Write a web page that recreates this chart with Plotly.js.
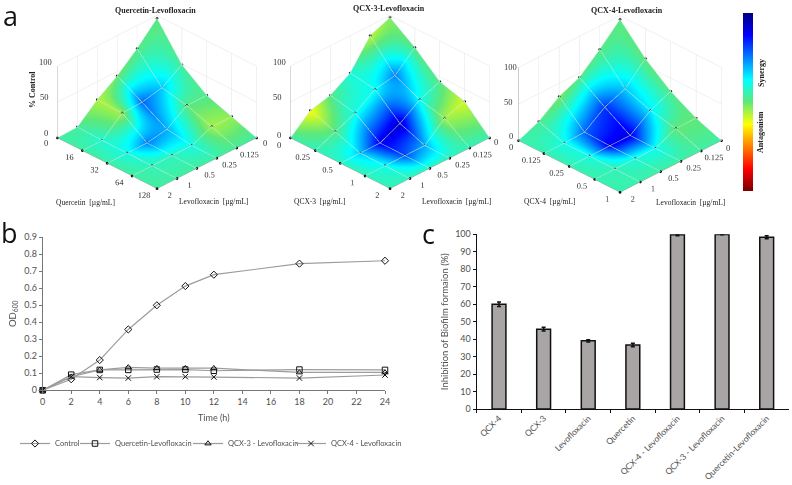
<!DOCTYPE html>
<html>
<head>
<meta charset="utf-8">
<script src="https://cdn.plot.ly/plotly-3.0.1.min.js"></script>
<style>html,body{margin:0;padding:0;background:#fff}#chart{width:792px;height:485px}</style>
</head>
<body>
<div id="chart"></div>
<script>
const W = 792, H = 485;

// panel a, rows = levofloxacin steps, columns = partner drug steps
const levoTicks = ["0", "0.125", "0.25", "0.5", "1", "2"];
const quercetinTicks = ["0", "16", "32", "64", "128"];
const qcx3Ticks = ["0", "0.25", "0.5", "1", "2"];
const qcx4Ticks = ["0", "0.125", "0.25", "0.5", "1"];
const zTicks = [0, 50, 100];

const quercetinGrowth = [
  [96, 49, 24, 12, 0],
  [68, 31, 24, 12, 0],
  [44, 25, 5, 0, 0],
  [25, 24, 0, 0, 0],
  [1, 0, 0, 0, 0],
  [0, 0, 0, 0, 0]
];
const quercetinSynergy = [
  [2, 6, 4, -8, 8],
  [2, 35, 2, -10, 6],
  [-2, 55, 40, 20, 8],
  [-12, -10, 50, 13, 8],
  [6, 16, 20, 12, 8],
  [8, 8, 8, 8, 8]
];
const qcx3Growth = [
  [97, 73, 43, 33, 0],
  [86, 48, 32, 24, 0],
  [48, 43, 13, 0, 0],
  [31, 24, 0, 0, 0],
  [24, 12, 0, 0, 0],
  [0, 0, 0, 0, 0]
];
const qcx3Synergy = [
  [-5, 2, 3, -18, 10],
  [-15, 50, 22, -10, 12],
  [18, 22, 85, 40, 12],
  [3, 20, 78, 60, 12],
  [-25, 3, 35, 22, 12],
  [8, 12, 12, 12, 12]
];
const qcx4Growth = [
  [95, 59, 32, 13, 0],
  [68, 32, 20, 13, 0],
  [44, 21, 0, 0, 0],
  [32, 1, 0, 0, 0],
  [12, 0, 0, 0, 0],
  [0, 0, 0, 0, 0]
];
const qcx4Synergy = [
  [2, 0, 3, 0, 8],
  [2, 35, 28, 0, 8],
  [3, 65, 80, 22, 8],
  [-5, 55, 78, 18, 8],
  [5, 20, 20, 12, 10],
  [10, 10, 10, 10, 10]
];

// panel b
const hours = [0, 2, 4, 6, 8, 10, 12, 18, 24];
const odControl = [0, 0.065, 0.178, 0.358, 0.5, 0.613, 0.68, 0.745, 0.762];
const odQuercetinLevo = [0, 0.092, 0.12, 0.12, 0.122, 0.122, 0.115, 0.122, 0.12];
const odQcx3Levo = [0, 0.08, 0.12, 0.135, 0.13, 0.13, 0.13, 0.105, 0.105];
const odQcx4Levo = [0, 0.08, 0.075, 0.072, 0.08, 0.08, 0.078, 0.072, 0.09];

// panel c
const biofilmLabels = ["QCX-4", "QCX-3", "Levofloxacin", "Quercetin", "QCX-4 - Levofloxacin", "QCX-3 - Levofloxacin", "Quercetin-Levofloxacin"];
const biofilmValues = [60, 45.7, 39, 36.7, 99.7, 99.9, 98.3];
const biofilmErrors = [1.3, 1.1, 0.6, 1, 0.5, 0.2, 0.8];

const jetScale = [
  [0, "#780000"], [0.125, "#ff0000"], [0.375, "#ffff00"], [0.5, "#5fe87a"],
  [0.625, "#00ffff"], [0.875, "#0000ff"], [1, "#000080"]
];

const px = (x) => x / W;
const py = (y) => 1 - y / H;
const serif = "Liberation Serif";
const sans = "Lato";

function surfaceTraces(growth, synergy, scene, withBar) {
  const xs = growth.map((_, i) => i);
  const ys = growth[0].map((_, j) => j);
  const dots = { x: [], y: [], z: [] };
  growth.forEach((row, i) => row.forEach((v, j) => {
    dots.x.push(i); dots.y.push(j); dots.z.push(v);
  }));
  const wire = { show: true, start: 0, size: 1, color: "#bdeee4", width: 1, highlight: false };
  const surface = {
    type: "surface", scene: scene,
    x: xs, y: ys, z: ys.map((j) => growth.map((row) => row[j])),
    surfacecolor: ys.map((j) => synergy.map((row) => row[j])),
    colorscale: jetScale, cmin: -100, cmax: 100,
    lighting: { ambient: 1, diffuse: 0, specular: 0, roughness: 1, fresnel: 0 },
    showscale: withBar, hoverinfo: "skip",
    contours: {
      x: Object.assign({}, wire, { end: 5 }),
      y: Object.assign({}, wire, { end: 4 }),
      z: { highlight: false }
    }
  };
  if (withBar) {
    surface.colorbar = {
      x: px(743), xanchor: "left", xpad: 0, ypad: 0, y: py(13), yanchor: "top",
      lenmode: "pixels", len: 178, thickness: 10, outlinewidth: 0,
      ticks: "", showticklabels: false
    };
  }
  const points = {
    type: "scatter3d", mode: "markers", scene: scene,
    x: dots.x, y: dots.y, z: dots.z,
    marker: { size: 1.6, color: "#111" }, hoverinfo: "skip", showlegend: false
  };
  return [surface, points];
}

// the two "0" labels and the z labels sit apart from where gl3d would put them, see zeroNotes
const skipZero = (ticks) => ticks.map((t, i) => (i ? t : " "));

function sceneLayout(centre, top, partnerTicks) {
  const axis = {
    showbackground: false, gridcolor: "#e4e4e4", gridwidth: 1, showline: true,
    linecolor: "#999", zeroline: false, showspikes: false, ticks: "", title: { text: "" }, tickangle: 0,
    tickfont: { family: serif, size: 10, color: "#333" }, autorange: false
  };
  return {
    domain: { x: [px(centre - 140), px(centre + 140)], y: [py(top + 210), py(top)] },
    aspectmode: "manual", aspectratio: { x: 1.38, y: 1.38, z: 0.818 },
    camera: { eye: { x: 1.5, y: 1.5, z: 1.257 }, projection: { type: "orthographic" } },
    xaxis: Object.assign({}, axis, { range: [0, 5], tickmode: "array", tickvals: levoTicks.map((_, i) => i), ticktext: skipZero(levoTicks) }),
    yaxis: Object.assign({}, axis, { range: [0, 4], tickmode: "array", tickvals: partnerTicks.map((_, i) => i), ticktext: skipZero(partnerTicks) }),
    zaxis: Object.assign({}, axis, { range: [0, 100], tickmode: "array", tickvals: zTicks, showticklabels: false })
  };
}

function note(text, x, y, size, family, opts) {
  return Object.assign({
    text: text, x: px(x), y: py(y), xref: "paper", yref: "paper", showarrow: false,
    xanchor: "center", yanchor: "middle", font: { family: family, size: size, color: "#222" }
  }, opts || {});
}

const tick3d = { font: { family: serif, size: 8.5, color: "#333" } };
function zeroNotes(z0, z50, z100, left, right) {
  return [
    note(String(zTicks[0]), z0[0], z0[1], 8.5, serif, tick3d),
    note(String(zTicks[1]), z50[0], z50[1], 8.5, serif, tick3d),
    note(String(zTicks[2]), z100[0], z100[1], 8.5, serif, tick3d),
    note(levoTicks[0], left[0], left[1], 8.5, serif, tick3d),
    note(levoTicks[0], right[0], right[1], 8.5, serif, tick3d)
  ];
}

const lineGray = "#9c9c9c";
function growthTrace(name, values, symbol, legendId) {
  return {
    type: "scatter", mode: "lines+markers", name: name, x: hours, y: values, cliponaxis: false, legend: legendId,
    xaxis: "x", yaxis: "y", line: { color: lineGray, width: 1.2 },
    marker: { symbol: symbol, size: 5.5, color: "#111", line: { color: "#111", width: 1 } }
  };
}

const data = [
  ...surfaceTraces(quercetinGrowth, quercetinSynergy, "scene", true),
  ...surfaceTraces(qcx3Growth, qcx3Synergy, "scene2", false),
  ...surfaceTraces(qcx4Growth, qcx4Synergy, "scene3", false),
  growthTrace("Control", odControl, "diamond-open", "legend"),
  growthTrace("Quercetin-Levofloxacin", odQuercetinLevo, "square-open", "legend2"),
  growthTrace("QCX-3 - Levofloxacin", odQcx3Levo, "triangle-up-open", "legend3"),
  growthTrace("QCX-4 - Levofloxacin", odQcx4Levo, "x-thin-open", "legend4"),
  {
    type: "bar", x: biofilmLabels, y: biofilmValues, xaxis: "x2", yaxis: "y2", showlegend: false,
    marker: { color: "#a9a5a5", line: { color: "#111", width: 1.5 } },
    error_y: { type: "data", array: biofilmErrors, color: "#111", thickness: 1.5, width: 2 }
  }
];

const textGray = "#505050";
function legendAt(x) {
  return {
    x: px(x), y: py(429), xanchor: "left", yanchor: "top", itemwidth: 30,
    font: { size: 7.5, color: textGray }, bgcolor: "rgba(0,0,0,0)"
  };
}

const layout = {
  width: W, height: H, margin: { l: 0, r: 0, t: 0, b: 0 }, paper_bgcolor: "#fff", plot_bgcolor: "#fff",
  font: { family: sans, color: textGray },
  scene: sceneLayout(156.5, -6, quercetinTicks),
  scene2: sceneLayout(390, -6, qcx3Ticks),
  scene3: sceneLayout(620, -2.3, qcx4Ticks),
  xaxis: {
    domain: [px(42.7), px(385)], anchor: "y", range: [0, 24], tick0: 0, dtick: 2,
    showline: true, linecolor: "#777", ticks: "outside", ticklen: 3, tickcolor: "#777", showgrid: false, zeroline: false,
    tickfont: { size: 9, color: textGray },
    title: { text: "Time (h)", font: { size: 9, color: textGray }, standoff: 8 }
  },
  yaxis: {
    domain: [py(390.3), py(237.3)], anchor: "x", range: [0, 0.9], tick0: 0, dtick: 0.1,
    showline: true, linecolor: "#777", ticks: "outside", ticklen: 3, tickcolor: "#777", showgrid: false, zeroline: false,
    tickfont: { size: 9, color: textGray }, tickformat: "~g",
    title: { text: "OD<sub>600</sub>", font: { size: 9.5, color: textGray }, standoff: 5 }
  },
  xaxis2: {
    domain: [px(476.7), px(789)], anchor: "y2", type: "category", tickson: "boundaries",
    showline: true, linecolor: "#111", linewidth: 1.2, ticks: "outside", ticklen: 3, tickcolor: "#111", showgrid: false,
    tickangle: -45, tickfont: { size: 8.5, color: textGray }
  },
  yaxis2: {
    domain: [py(409), py(234.3)], anchor: "x2", range: [0, 100], tick0: 0, dtick: 10,
    showline: true, linecolor: "#111", linewidth: 1.2, ticks: "outside", ticklen: 3, tickcolor: "#111", showgrid: false, zeroline: false,
    tickfont: { size: 9, color: textGray },
    title: { text: "Inhibition of Biofilm formaion (%)", font: { size: 9.5, color: textGray }, standoff: 4 }
  },
  bargap: 0.69,
  showlegend: true,
  legend: legendAt(15),
  legend2: legendAt(75),
  legend3: legendAt(188),
  legend4: legendAt(291),
  annotations: [
    note("a", 10, 15, 27, "Open Sans", { font: { family: "Open Sans", size: 27, color: "#111" } }),
    note("b", 9, 232, 27, "Open Sans", { font: { family: "Open Sans", size: 27, color: "#111" } }),
    note("c", 429, 233, 27, "Open Sans", { font: { family: "Open Sans", size: 27, color: "#111" } }),
    note("<b>Quercetin-Levofloxacin</b>", 155, 10, 8, serif),
    note("<b>QCX-3-Levofloxacin</b>", 389, 8, 8, serif),
    note("<b>QCX-4-Levofloxacin</b>", 627, 10, 8, serif),
    note("<b>% Control</b>", 32, 90, 8, serif, { textangle: -90 }),
    note("Quercetin  [µg/mL]", 85, 202, 7.5, serif),
    note("Levofloxacin  [µg/mL]", 213, 201, 7.5, serif),
    note("QCX-3  [µg/mL]", 319, 201, 7.5, serif),
    note("Levofloxacin  [µg/mL]", 456, 201, 7.5, serif),
    note("QCX-4  [µg/mL]", 549, 201, 7.5, serif),
    note("Levofloxacin  [µg/mL]", 690, 202, 7.5, serif),
    note("<b>Synergy</b>", 761, 73, 8, serif, { textangle: -90 }),
    note("<b>Antagonism</b>", 761, 132, 8, serif, { textangle: -90 }),
    ...zeroNotes([46, 133], [44, 97], [45, 62], [46, 143], [265, 143]),
    ...zeroNotes([279, 135], [277, 97], [279, 62], [279, 145], [496, 142]),
    ...zeroNotes([511, 136], [509, 102], [510, 67], [511, 147], [728, 148])
  ]
};

Plotly.newPlot("chart", data, layout, { displayModeBar: false });
</script>
</body>
</html>
